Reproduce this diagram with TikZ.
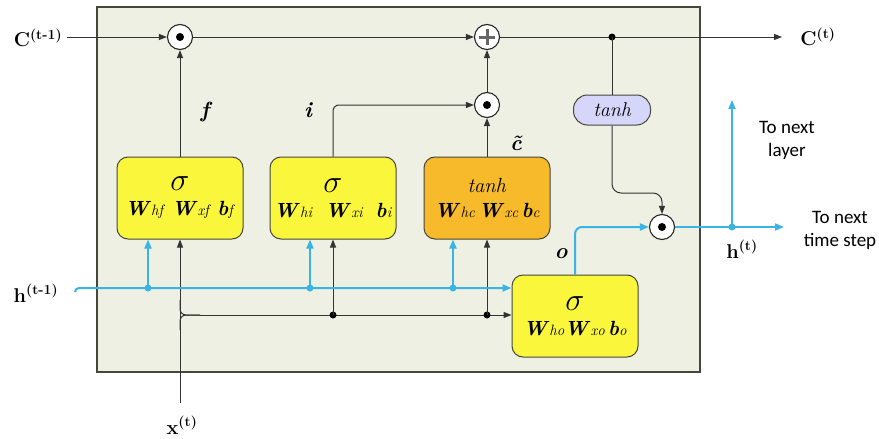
\documentclass[tikz,border=0pt]{standalone}
\usepackage{fontspec}
\usetikzlibrary{arrows.meta}
\newfontfamily\calib{Carlito}
\definecolor{cellbg}{RGB}{238,240,228}
\definecolor{gyel}{RGB}{250,246,60}
\definecolor{gorg}{RGB}{246,186,42}
\definecolor{glav}{RGB}{214,214,250}
\definecolor{hblue}{RGB}{58,180,228}
\definecolor{edgec}{RGB}{70,70,60}
\newcommand{\myw}[2]{\textbf{\textit{#1}}{\fontsize{15}{15}\selectfont\textit{#2}}}
\newcommand{\mysig}{\scalebox{1.55}{$\sigma$}}
\tikzset{
  arr/.style={draw=black!80, line width=1pt, -{Triangle[length=8pt,width=6pt]}},
  ln/.style={draw=black!80, line width=1pt},
  barr/.style={draw=hblue, line width=2pt, -{Triangle[length=9pt,width=7pt]}},
  bln/.style={draw=hblue, line width=2pt},
  gatebox/.style={draw=edgec, line width=1pt, rounded corners=11pt, minimum width=126pt, minimum height=82pt, align=center, font=\fontsize{20.5}{23}\selectfont, inner sep=0pt},
  opc/.style={circle, draw=black!85, fill=white, line width=1.1pt, minimum size=25pt, inner sep=0pt},
  jdot/.style={circle, fill=black, minimum size=7pt, inner sep=0pt},
  bdot/.style={circle, fill=hblue, minimum size=7pt, inner sep=0pt},
  lab/.style={font=\fontsize{20}{20}\selectfont\bfseries},
  glab/.style={font=\fontsize{22}{22}\selectfont\bfseries\itshape},
  side/.style={font=\fontsize{19}{23}\selectfont\calib, align=center}
}
\begin{document}
\begin{tikzpicture}[x=1pt,y=-1pt]
\useasboundingbox (0,0) rectangle (879,439);
% cell
\draw[draw=edgec, fill=cellbg, line width=1.3pt] (97,7) rectangle (700,372);
% gates
\node[gatebox, fill=gyel] (fbox) at (180,198) {\mysig\\[2pt] \myw{W}{hf}\ \myw{W}{xf}\ \myw{b}{f}};
\node[gatebox, fill=gyel] (ibox) at (333,198) {\mysig\\[2pt] \myw{W}{hi}\ \ \myw{W}{xi}\ \ \myw{b}{i}};
\node[gatebox, fill=gorg] (cbox) at (487,198) {\textit{tanh}\\[2pt] \myw{W}{hc}\,\myw{W}{xc}\,\myw{b}{c}};
\node[gatebox, fill=gyel] (obox) at (575,316) {\mysig\\[2pt] \myw{W}{ho}\myw{W}{xo}\,\myw{b}{o}};
\node[draw=edgec, fill=glav, line width=1pt, rounded corners=14pt, minimum width=77pt, minimum height=30pt, inner sep=0pt, font=\fontsize{20}{20}\selectfont\itshape] (tanh) at (612,110) {tanh};
% operators
\node[opc] (o1) at (180,37) {};
\node[jdot, minimum size=8pt] at (o1) {};
\node[opc] (plus) at (487,37) {};
\draw[draw=black!60, line width=3pt] (plus.center) ++(-8,0) -- ++(16,0);
\draw[draw=black!60, line width=3pt] (plus.center) ++(0,-8) -- ++(0,16);
\node[opc] (o2) at (487,105) {};
\node[jdot, minimum size=8pt] at (o2) {};
\node[opc] (o3) at (662,227) {};
\node[jdot, minimum size=8pt] at (o3) {};
% coordinates
\coordinate (cin) at (67,37);
\coordinate (cout) at (782,37);
\coordinate (jc) at (612,37);
\coordinate (xin) at (180,403);
\coordinate (hin) at (75,288);
\coordinate (hout) at (784,227);
\coordinate (hup) at (732,100);
\coordinate (jh) at (732,227);
\coordinate (xj) at (180,315);
\coordinate (xd1) at (333,315);
\coordinate (xd2) at (487,315);
\coordinate (hd1) at (148,288);
\coordinate (hd2) at (310,288);
\coordinate (hd3) at (453,288);
% labels
\node[lab] (lcin) at (38,38) {C\textsuperscript{(t-1)}};
\node[lab] (lcout) at (818,37) {C\textsuperscript{(t)}};
\node[lab] (lhin) at (36,293) {h\textsuperscript{(t-1)}};
\node[lab] (lhout) at (742,249) {h\textsuperscript{(t)}};
\node[lab] (lxin) at (182,425) {x\textsuperscript{(t)}};
\node[glab] (lf) at (205,112) {f};
\node[glab] (li) at (308,110) {i};
\node[glab] (lo) at (561,254) {o};
\node[font=\fontsize{22}{22}\selectfont\bfseries\itshape, inner sep=0pt] (lc) at (516,143) {\~{c}};
\node[side] (tnl) at (787,140) {To next\\layer};
\node[side] (tnt) at (840,230) {To next\\time step};
% cell state
\draw[arr] (cin) -- (o1);
\draw[arr] (o1) -- (plus);
\draw[arr] (plus) -- (cout);
\node[jdot] at (jc) {};
\draw[ln] (jc) -- (tanh);
\draw[arr, rounded corners=9pt] (tanh.south) -- (612,193) -- (662,193) -- (o3.north);
% gates to operators
\draw[arr] (fbox.north) -- (o1);
\draw[arr, rounded corners=6pt] (ibox.north) |- (o2);
\draw[arr] (cbox.north) -- (o2);
\draw[arr] (o2) -- (plus);
% x input
\draw[arr] (xin) -- (fbox.south);
\draw[ln, rounded corners=6pt] (180,300) -- (xj) -- (200,315);
\draw[ln, rounded corners=6pt] (180,330) -- (xj) -- (200,315);
\draw[arr] (200,315) -- (obox.west |- xj);
\node[jdot] at (xd1) {};
\node[jdot] at (xd2) {};
\draw[arr] (xd1) -- (ibox.south);
\draw[arr] (xd2) -- (cbox.south);
% h input
\draw[barr, rounded corners=4pt] (hin) ++(0,4) -- (hin) -- (obox.west |- hin);
\node[bdot] at (hd1) {};
\node[bdot] at (hd2) {};
\node[bdot] at (hd3) {};
\draw[barr] (hd1) -- (hd1 |- fbox.south);
\draw[barr] (hd2) -- (hd2 |- ibox.south);
\draw[barr] (hd3) -- (hd3 |- cbox.south);
% output gate
\draw[barr, rounded corners=7pt] (obox.north) -- (575,227) -- (o3.west);
\draw[barr] (o3) -- (hout);
\node[bdot] at (jh) {};
\draw[barr] (jh) -- (hup);
\end{tikzpicture}
\end{document}
